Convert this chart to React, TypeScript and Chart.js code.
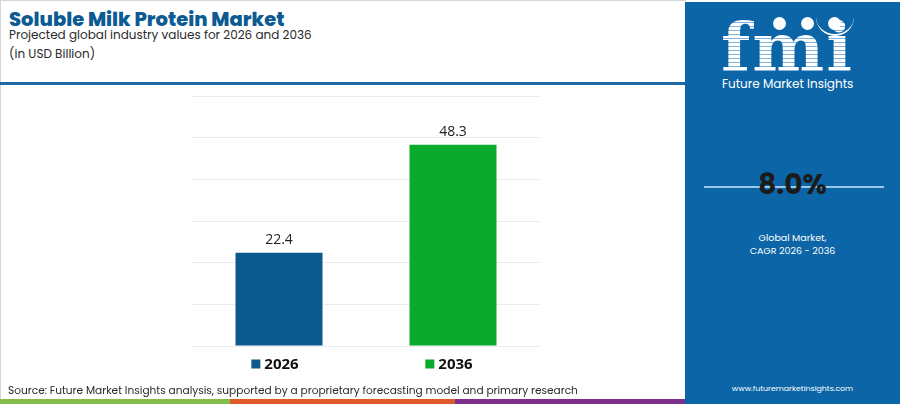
import React, { useEffect, useRef } from "react";
import { Chart, registerables } from "chart.js";

Chart.register(...registerables);

const categories: string[] = ["2026", "2036"];
const values: number[] = [22.4, 48.3];
const barColors: string[] = ["#0b5a8e", "#0aaa2d"];
const yMax = 60;
const yStep = 10;

const titleText = "Soluble Milk Protein Market";
const subtitleText = "Projected global industry values for 2026 and 2036";
const unitText = "(in USD Billion)";
const sourceText =
  "Source: Future Market Insights analysis, supported by a proprietary forecasting model and primary research";
const cagrText = "8.0%";
const cagrLabel1 = "Global Market,";
const cagrLabel2 = "CAGR 2026 - 2036";
const siteText = "www.futuremarketinsights.com";
const brandText = "Future Market Insights";

const FONT = "Poppins, 'Open Sans', Roboto, Arial, sans-serif";

export default function App() {
  const canvasRef = useRef<HTMLCanvasElement | null>(null);

  useEffect(() => {
    const canvas = canvasRef.current;
    if (!canvas) return;

    const labelPlugin = {
      id: "valueAndLegend",
      afterDatasetsDraw(chart: any) {
        const ctx = chart.ctx;
        const meta = chart.getDatasetMeta(0);
        ctx.save();
        meta.data.forEach((bar: any, i: number) => {
          ctx.font = "14px 'Open Sans', Arial, sans-serif";
          ctx.fillStyle = "#222222";
          ctx.textAlign = "center";
          ctx.textBaseline = "middle";
          ctx.fillText(String(values[i]), bar.x, bar.y - 13);
          const bottom = chart.chartArea.bottom;
          ctx.font = "bold 15px 'Open Sans', Arial, sans-serif";
          const tw = ctx.measureText(categories[i]).width;
          const sq = 9;
          const gap = 4;
          const total = sq + gap + tw;
          const startX = bar.x - total / 2 - 4;
          const cy = bottom + 18;
          ctx.fillStyle = barColors[i];
          ctx.fillRect(startX, cy - sq / 2, sq, sq);
          ctx.fillStyle = "#111111";
          ctx.textAlign = "left";
          ctx.fillText(categories[i], startX + sq + gap, cy + 1);
        });
        ctx.restore();
      },
    };

    const chart = new Chart(canvas, {
      type: "bar",
      data: {
        labels: categories,
        datasets: [
          {
            data: values,
            backgroundColor: barColors,
            borderWidth: 0,
            barPercentage: 0.5,
            categoryPercentage: 1,
          },
        ],
      },
      options: {
        animation: false,
        responsive: false,
        maintainAspectRatio: false,
        layout: { padding: { left: 192, right: 140, top: 96, bottom: 58 } },
        plugins: {
          legend: { display: false },
          tooltip: { enabled: false },
          title: { display: false },
        },
        scales: {
          x: { display: false },
          y: {
            display: true,
            min: 0,
            max: yMax,
            ticks: { display: false, stepSize: yStep },
            border: { display: false },
            grid: { color: "#ececec", lineWidth: 1, drawTicks: false },
            afterFit: (axis: any) => {
              axis.width = 0;
            },
          },
        },
      },
      plugins: [labelPlugin],
    });
    return () => chart.destroy();
  }, []);

  const abs = (s: React.CSSProperties): React.CSSProperties => ({ position: "absolute", ...s });

  return (
    <div
      style={{
        position: "fixed",
        left: 0,
        top: 0,
        width: 900,
        height: 404,
        overflow: "hidden",
        background: "#ffffff",
        fontFamily: FONT,
      }}
    >
      <div style={abs({ left: 0, top: 0, width: 686, height: 1, background: "#d6d6d6" })} />
      <div style={abs({ left: 0, top: 0, width: 1, height: 400, background: "#d6d6d6" })} />

      <div style={abs({ left: 9, top: 5, fontSize: 19.5, lineHeight: "normal", fontWeight: 800, color: "#0d5b93", whiteSpace: "nowrap" })}>
        {titleText}
      </div>
      <div style={abs({ left: 9, top: 26, fontSize: 12, color: "#2a2a2a", whiteSpace: "nowrap" })}>{subtitleText}</div>
      <div style={abs({ left: 9, top: 44.5, fontSize: 12, color: "#2a2a2a", whiteSpace: "nowrap" })}>{unitText}</div>

      <div style={abs({ left: 0, top: 82, width: 686, height: 3, background: "#1b6aa6" })} />

      <canvas ref={canvasRef} width={680} height={404} style={abs({ left: 0, top: 0, width: 680, height: 404 })} />

      <div style={abs({ left: 8, top: 383, fontSize: 10.6, color: "#2a2a2a", whiteSpace: "nowrap" })}>{sourceText}</div>

      <div style={abs({ left: 0, top: 399, width: 230, height: 5, background: "#86bd4a" })} />
      <div style={abs({ left: 230, top: 399, width: 225, height: 5, background: "#e0592b" })} />
      <div style={abs({ left: 455, top: 399, width: 231, height: 5, background: "#7d2f8c" })} />

      <div style={abs({ left: 685, top: 2, width: 215, height: 402, background: "#0b65a7" })}>
        <div
          style={abs({
            left: 36,
            top: 9,
            fontFamily: "'DejaVu Serif', serif",
            fontWeight: 700,
            fontSize: 68,
            lineHeight: "72px",
            letterSpacing: 2,
            color: "transparent",
            backgroundImage: "repeating-linear-gradient(180deg, #ffffff 0px, #ffffff 3px, #7fb2dc 3px, #7fb2dc 4px)",
            WebkitBackgroundClip: "text",
            backgroundClip: "text",
          } as React.CSSProperties)}
        >
          fmi
        </div>
        <div style={abs({ left: 88, top: 15, width: 13, height: 13, borderRadius: 7, background: "#ffffff" })} />
        <div style={abs({ left: 116, top: 15, width: 13, height: 13, borderRadius: 7, background: "#ffffff" })} />
        <div style={abs({ left: 143, top: 15, width: 13, height: 13, borderRadius: 7, background: "#ffffff" })} />
        <div
          style={abs({
            left: 131,
            top: 6,
            width: 38,
            height: 26,
            borderBottom: "2px solid #ffffff",
            borderRadius: "0 0 20px 20px",
          })}
        />
        <div style={abs({ left: 37, top: 72.5, fontSize: 12, color: "#ffffff", whiteSpace: "nowrap" })}>{brandText}</div>

        <div style={abs({ left: 19, top: 184, width: 180, height: 2, background: "#9cc6ea" })} />
        <div
          style={abs({ left: 0, top: 161.5, width: 215, textAlign: "center", fontSize: 28, lineHeight: "normal", fontWeight: 700, color: "#1b1b1b" })}
        >
          {cagrText}
        </div>
        <div style={abs({ left: 0, top: 229, width: 215, textAlign: "center", fontSize: 9.5, color: "#ffffff", lineHeight: "13px" })}>
          {cagrLabel1}
          <br />
          {cagrLabel2}
        </div>
        <div style={abs({ left: 0, top: 381, width: 215, textAlign: "center", fontSize: 7.8, color: "#ffffff" })}>{siteText}</div>
      </div>
    </div>
  );
}
